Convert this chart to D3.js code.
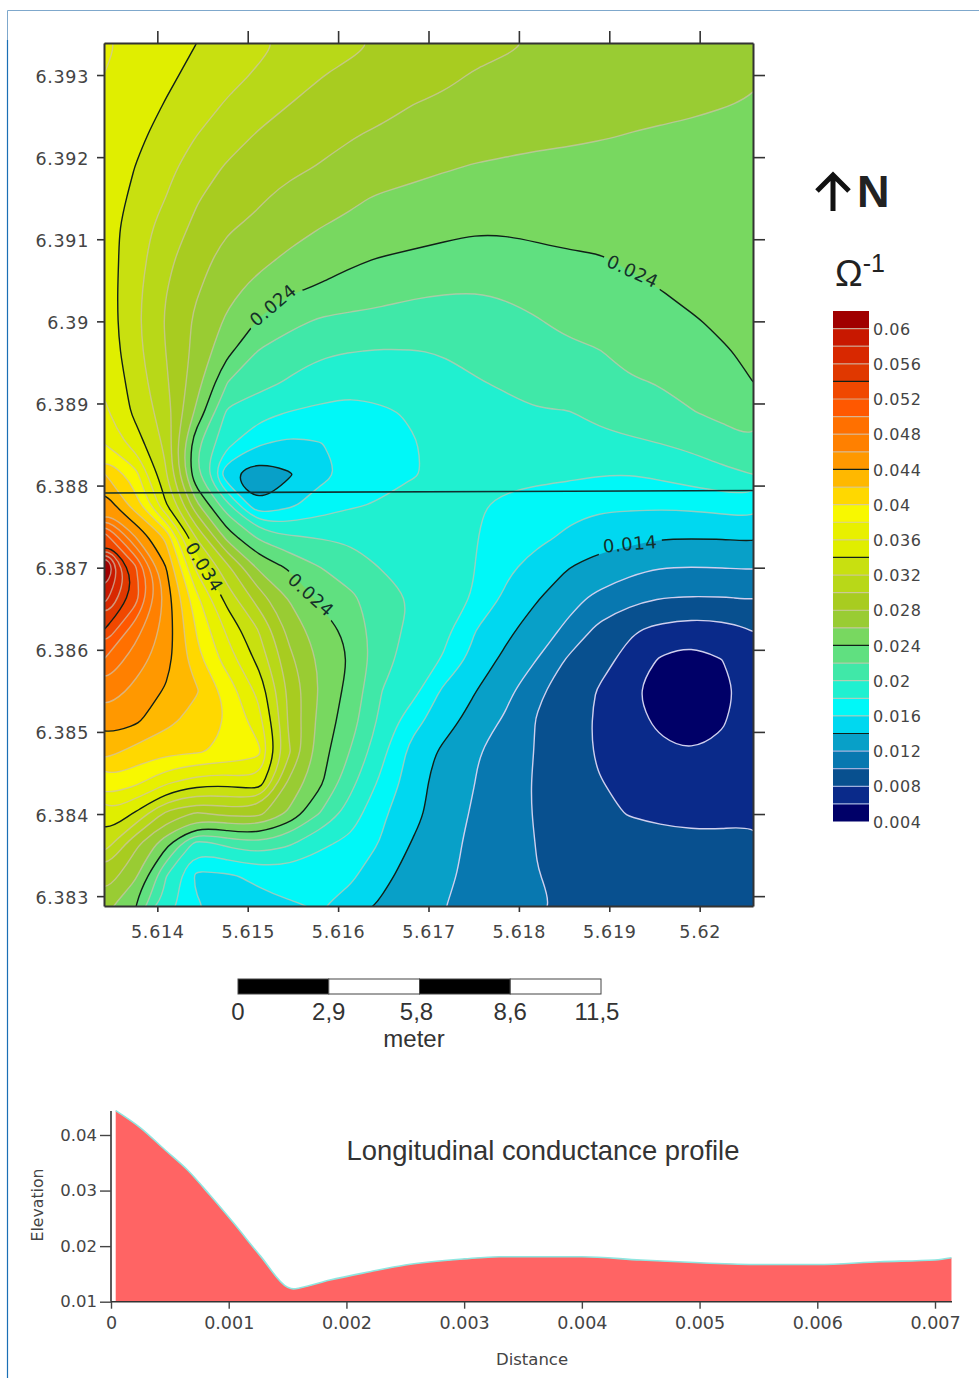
<!DOCTYPE html>
<html>
<head>
<meta charset="utf-8">
<title>Longitudinal conductance map and profile</title>
<script src="https://d3js.org/d3.v7.min.js"></script>
<style>
  html, body { margin: 0; background: #fff; }
  svg { display: block; }
  .tick text { fill: #444; }
</style>
</head>
<body>
<svg width="979" height="1378"></svg>
<script>
// map extent and tick values
const lonExtent = [5.61341, 5.62059];
const latExtent = [6.38288, 6.39339];
const lonTicks = [5.614, 5.615, 5.616, 5.617, 5.618, 5.619, 5.62];
const latTicks = [6.383, 6.384, 6.385, 6.386, 6.387, 6.388, 6.389, 6.39, 6.391, 6.392, 6.393];

// conductance, in 0.001 units, north row first
const gridValues = [
  [36.3,35.6,34.9,34,33.2,32.4,31.7,31,30.4,29.8,29.4,29,28.6,28.2,27.9,27.7,27.6,27.5,27.4,27.3,27.2,27.2],
  [36,35.4,34.4,33.5,32.6,31.8,31.2,30.1,29.6,29.2,28.8,28.4,27.9,27.7,27.5,27.3,27.1,26.9,26.7,26.5,26.3,26.2],
  [35.6,34.9,33.9,32.8,31.8,30.9,30,29.5,29.1,28.5,28,27.7,27.5,27.3,27.1,26.9,26.7,26.5,26.3,26.2,26.05,25.9],
  [35.2,34.5,33.2,32,30.9,29.8,29,28.6,28.1,27.7,27.4,27.1,26.9,26.7,26.5,26.35,26.15,25.95,25.85,25.75,25.65,25.6],
  [35,34,32.6,31,29.8,29,28.5,27.9,27.5,27.1,26.7,26.2,25.9,25.7,25.5,25.4,25.3,25.2,25.15,25.1,25.05,25],
  [35.1,33.6,32,30.2,29,28.3,27.4,26.9,26.3,25.8,25.4,25.2,25.1,25,25,24.95,24.9,24.9,24.9,24.9,24.9,24.9],
  [35,33,31.2,29.5,28.2,27.5,26.8,26,25.6,25.3,24.9,24.5,24.2,24.2,24.35,24.45,24.55,24.6,24.7,24.75,24.8,24.8],
  [35,32.9,30.5,28.7,27.3,26.6,25.6,25.1,24.3,23.9,23.6,23.4,23.3,23.4,23.6,23.8,23.9,24.2,24.45,24.6,24.7,24.7],
  [35.1,32.6,30.1,28.2,26.6,25.3,24.3,23.7,23.3,22.9,22.4,22.2,22.1,22.3,22.7,23.2,23.5,23.7,24,24.3,24.5,24.6],
  [35.2,32.5,29.8,27.6,25.7,23.9,22.6,21.8,21.5,21.3,21.1,21,21,21.4,21.9,22.5,23,23.4,23.7,23.9,24.2,24.4],
  [35.4,32.7,30,27.4,24.5,21.9,20.9,20.3,20.05,19.9,19.95,20.1,20.4,20.8,21.3,21.6,21.9,22.7,23.2,23.5,23.9,24.2],
  [35.8,33.2,30.3,26.8,22,20.7,19.8,19,18.5,18.9,19.2,19.5,19.9,20.2,20.6,20.9,21.3,21.8,22.1,22.6,23.3,24],
  [36.4,33.6,31,25.5,19.5,18.7,17.9,17.6,17.5,17.7,18.2,18.9,19.3,19.6,19.9,19.9,20.4,20.9,21.5,21.9,22.5,23.1],
  [38,35.1,31.5,22.3,18.5,16.2,15.5,15.9,16.8,17.3,17.9,18.5,18.9,19.1,19.2,19.3,19.5,19.7,20,20.4,20.9,21.8],
  [42.2,38.9,32.2,22,14.2,12.5,13.8,15.5,16.4,17.4,17.9,18.3,18.6,18.6,18.5,18.4,18.1,18,18.4,19,19.6,20],
  [45.5,41,34.2,26.5,20.5,14,15.6,17,17.8,18.2,18.7,18.8,18.2,17.6,17.1,16.6,16.3,16.3,16.3,16.4,16.7,17],
  [53,46,41.5,31.6,25,21.5,20.1,19.8,19.7,19.5,19.4,19,18.1,17.2,16.6,15.7,15,14.7,14.2,14.2,14.2,14.4],
  [64,52.5,44.1,35.4,30.4,25.6,23.7,22,20.8,19.9,19.8,19.6,18,16.5,15.1,14.1,13.2,12.6,12.05,12,12.05,12.2],
  [59,53.2,45.3,38.5,33.1,29,25.8,23.6,22.4,20.7,19.9,19.4,17.8,15.6,14.2,12.6,11.6,10.6,10.05,9.9,9.95,10.1],
  [54.2,49,45.2,39.8,35.5,31.9,27.3,24.8,23.5,20.5,19.7,18.6,16.1,14.6,12.9,11.7,9.6,8.3,7.6,7.2,7.4,8.1],
  [50,47,44.9,40.6,37,33.4,28.5,25.6,23.8,20.6,19.2,17.8,15.3,13.5,12,9.8,8.7,7.4,5.8,5,6,7.4],
  [47.5,45.5,43.8,42.2,39.2,35.4,29.5,25.8,23.2,20,18.7,15.6,14.1,12.6,10.4,9,7.9,6.3,5.1,4.5,5.3,7],
  [45,44.4,42.6,41.2,39.9,36.8,29.5,25.3,22.8,19.4,16.7,14.8,13.2,11.7,9.9,9,7.7,6.7,5.6,5,5.8,7.2],
  [42.8,41.3,40.5,40.2,39.7,38.6,30.2,24.9,21.8,18.5,15.2,13.6,12.2,11,9.9,8.9,7.8,7,6.4,6,6.4,7.3],
  [39.5,38.5,36.3,34.9,34.6,35.5,27.5,24.4,20.5,17.5,14.9,13,12,10.9,9.8,8.9,8.1,7.5,7,6.9,7,7.2],
  [35.8,33.8,29.5,27.7,28.7,28.7,25.6,21.9,19,16.3,14.7,12.8,11.8,10.8,9.85,8.8,8.4,7.9,7.6,7.5,7.5,7.6],
  [33,28.5,24.6,18.9,20.4,21.4,20.2,18.3,17.5,15.8,13.8,12.4,11.7,11,9.95,9.4,9.1,8.9,8.7,8.5,8.5,8.6],
  [29.5,26.5,20.1,15.5,15.8,16.4,16.9,16.9,16.3,14.7,13,12.3,11.6,10.8,10.05,9.6,9.4,9.2,9.1,9,9,9.1],
  [26.8,24,19.1,16.2,15.3,15.4,15.8,16.1,15.3,13.6,12.9,12.05,11.3,10.7,10.2,9.8,9.6,9.5,9.4,9.3,9.3,9.4]
];

// colour bands, lower bound in 0.001 units
const levels = [4,6,8,10,12,14,16,18,20,22,24,26,28,30,32,34,36,38,40,42,44,46,48,50,52,54,56,58,60];
const bandColors = ["#000068","#0a2a8a","#08508f","#0878b0","#08a0c8","#00d8f0","#00f8f8","#20f0d0","#40e8a8","#60e080",
  "#78d860","#99cc33","#a8cc20","#b8d818","#c8e010","#e0ee00","#e8f000","#f8f800","#ffd800","#ffb800",
  "#ff9800","#ff8000","#ff7000","#ff5800","#f04800","#e03800","#d82800","#c81800","#a00000"];
const indexLevels = [14, 24, 34, 44, 54];
const legendTop = 62;
const legendLabels = [4,8,12,16,20,24,28,32,36,40,44,48,52,56,60];

// profile line across the map
const profileLine = [[5.61341, 6.38791], [5.62059, 6.38794]];

// contour labels: text, lon, lat, angle
const contourLabels = [
  ["0.024", 5.61528, 6.3902, -40],
  ["0.024", 5.61926, 6.39061, 25],
  ["0.034", 5.61452, 6.38701, 58],
  ["0.024", 5.6157, 6.38667, 42],
  ["0.014", 5.61923, 6.38729, -5]
];

// scale bar
const barStops = [0, 2.875, 5.75, 8.625, 11.5];
const barLabels = ["0", "2,9", "5,8", "8,6", "11,5"];
const barLabelShift = [0, 0, -3, 0, -4];

// lower profile
const profileDistance = [0.00004,0.00025,0.00046,0.00065,0.00084,0.00104,0.00127,0.0015,0.00155,0.00161,0.00186,0.0022,0.0025,0.003,0.0033,0.00373,0.004,0.0045,0.005,0.0055,0.006,0.00653,0.007,0.00714];
const profileValue = [0.0444,0.0413,0.0373,0.0337,0.0292,0.0242,0.0182,0.0126,0.0123,0.0125,0.0139,0.0154,0.0166,0.0177,0.0181,0.0181,0.0181,0.0175,0.017,0.0167,0.0167,0.0172,0.0175,0.0179];
const distanceTicks = [0, 0.001, 0.002, 0.003, 0.004, 0.005, 0.006, 0.007];
const elevationTicks = [0.01, 0.02, 0.03, 0.04];

const svg = d3.select("svg");
const tickFont = "'DejaVu Sans', sans-serif";
const sansFont = "'Liberation Sans', sans-serif";
const nRows = gridValues.length, nCols = gridValues[0].length;

// page edge lines
svg.append("path").attr("d", "M7.5,1378V10.5H979").attr("fill", "none").attr("stroke", "#7fa8cc").attr("stroke-width", 1);
svg.append("path").attr("d", "M7.5,1378V40").attr("fill", "none").attr("stroke", "#1a6fb5").attr("stroke-width", 1.2);

// ---- map
const x = d3.scaleLinear().domain(lonExtent).range([104, 753]);
const y = d3.scaleLinear().domain(latExtent).range([906, 43]);
const colX = d3.scaleLinear().domain([0, nCols - 1]).range(lonExtent);
const rowY = d3.scaleLinear().domain([0, nRows - 1]).range([latExtent[1], latExtent[0]]);

const contourGen = d3.contours().size([nCols, nRows]).smooth(true).thresholds(levels);
const shapes = contourGen(gridValues.flat());

const ringLine = d3.line().curve(d3.curveBasisClosed);
// contour coordinates sit half a cell off the grid points
function shapePath(shape) {
  let out = "";
  shape.coordinates.forEach(poly => poly.forEach(ring => {
    const pts = ring.slice(0, -1).map(p => [x(colX(p[0] - 0.5)), y(rowY(p[1] - 0.5))]);
    out += ringLine(pts);
  }));
  return out;
}

const defs = svg.append("defs");
defs.append("clipPath").attr("id", "mapClip").append("rect")
  .attr("x", x(lonExtent[0])).attr("y", y(latExtent[1]))
  .attr("width", x(lonExtent[1]) - x(lonExtent[0])).attr("height", y(latExtent[0]) - y(latExtent[1]));

const gapMask = defs.append("mask").attr("id", "labelGaps").attr("maskUnits", "userSpaceOnUse")
  .attr("x", 0).attr("y", 0).attr("width", 979).attr("height", 1378);
gapMask.append("rect").attr("width", 979).attr("height", 1378).attr("fill", "#fff");
gapMask.selectAll("rect.gap").data(contourLabels).join("rect").attr("class", "gap")
  .attr("x", -32).attr("y", -9).attr("width", 64).attr("height", 18).attr("fill", "#000")
  .attr("transform", d => `translate(${x(d[1])},${y(d[2])}) rotate(${d[3]})`);

const mapG = svg.append("g").attr("clip-path", "url(#mapClip)");
mapG.selectAll("path.band").data(shapes).join("path").attr("class", "band")
  .attr("d", shapePath).attr("fill", (d, i) => bandColors[i]).attr("fill-rule", "evenodd");

const lineColor = v => v <= 12 ? "#cfcfee" : "rgba(205,195,175,0.7)";
mapG.selectAll("path.iso").data(shapes.filter(d => d.value > 4 && !indexLevels.includes(d.value))).join("path").attr("class", "iso")
  .attr("d", shapePath).attr("fill", "none").attr("stroke", d => lineColor(d.value)).attr("stroke-width", 1.4);

mapG.append("g").attr("mask", "url(#labelGaps)")
  .selectAll("path.index").data(shapes.filter(d => indexLevels.includes(d.value))).join("path").attr("class", "index")
  .attr("d", shapePath).attr("fill", "none").attr("stroke", "#102018").attr("stroke-width", 1.4);

mapG.append("path").datum(profileLine)
  .attr("d", d3.line().x(d => x(d[0])).y(d => y(d[1])))
  .attr("fill", "none").attr("stroke", "#103030").attr("stroke-width", 1.6);

svg.append("g").selectAll("text").data(contourLabels).join("text")
  .attr("transform", d => `translate(${x(d[1])},${y(d[2])}) rotate(${d[3]})`)
  .attr("text-anchor", "middle").attr("dy", "0.36em")
  .attr("font-family", tickFont).attr("font-size", 18).attr("letter-spacing", 0.6)
  .attr("fill", "#14302a").text(d => d[0]);

// map axes
function styleAxis(g) {
  g.attr("font-family", tickFont).attr("font-size", 17.5);
  g.selectAll(".domain").attr("stroke", "#333").attr("stroke-width", 2);
  g.selectAll(".tick line").attr("stroke", "#333").attr("stroke-width", 1.6);
  g.selectAll(".tick text").attr("letter-spacing", 0.7);
}
svg.append("g").attr("transform", "translate(0,906)")
  .call(d3.axisBottom(x).tickValues(lonTicks).tickFormat(String).tickSize(6).tickSizeOuter(0).tickPadding(14)).call(styleAxis);
svg.append("g").attr("transform", "translate(0,43)")
  .call(d3.axisTop(x).tickValues(lonTicks).tickFormat("").tickSize(12).tickSizeOuter(0)).call(styleAxis);
svg.append("g").attr("transform", "translate(104,0)")
  .call(d3.axisLeft(y).tickValues(latTicks).tickFormat(String).tickSize(7).tickSizeOuter(0).tickPadding(8)).call(styleAxis)
  .selectAll(".tick text").attr("dy", "0.4em");
svg.append("g").attr("transform", "translate(753,0)")
  .call(d3.axisRight(y).tickValues(latTicks).tickFormat("").tickSize(12).tickSizeOuter(0)).call(styleAxis);

// ---- north arrow and unit
svg.append("path").attr("d", "M833,211V176M817,191L833,175L849,191")
  .attr("fill", "none").attr("stroke", "#111").attr("stroke-width", 5);
svg.append("text").attr("x", 857).attr("y", 207).attr("font-family", sansFont)
  .attr("font-weight", "bold").attr("font-size", 45).attr("fill", "#222").text("N");
const unitText = svg.append("text").attr("x", 835).attr("y", 286).attr("font-family", sansFont)
  .attr("font-size", 37).attr("fill", "#222").text("Ω");
unitText.append("tspan").attr("dy", -14).attr("font-size", 25).text("-1");

// ---- colour scale
const legendY = d3.scaleLinear().domain([4, legendTop]).range([821.5, 311]);
const legendG = svg.append("g");
legendG.selectAll("rect").data(levels).join("rect")
  .attr("x", 833).attr("width", 36)
  .attr("y", d => legendY(d + 2)).attr("height", d => legendY(d) - legendY(d + 2))
  .attr("fill", (d, i) => bandColors[i]);
legendG.selectAll("line").data(levels.slice(1)).join("line")
  .attr("x1", 833).attr("x2", 869).attr("y1", d => legendY(d)).attr("y2", d => legendY(d))
  .attr("stroke", d => indexLevels.includes(d) ? "#102018" : (d <= 12 ? "#9fb0dd" : "rgba(205,195,175,0.75)"))
  .attr("stroke-width", 1.2);
legendG.selectAll("text").data(legendLabels).join("text")
  .attr("x", 873).attr("y", d => legendY(d)).attr("dy", "0.38em")
  .attr("font-family", tickFont).attr("font-size", 16).attr("letter-spacing", 0.5).attr("fill", "#444")
  .text(d => String(+(d / 1000).toFixed(3)));

// ---- scale bar
const barX = d3.scaleLinear().domain([0, 11.5]).range([238, 601]);
const barG = svg.append("g");
barG.selectAll("rect").data(d3.pairs(barStops)).join("rect")
  .attr("x", d => barX(d[0])).attr("width", d => barX(d[1]) - barX(d[0]))
  .attr("y", 979).attr("height", 15)
  .attr("fill", (d, i) => i % 2 ? "#fff" : "#000").attr("stroke", "#444").attr("stroke-width", 1);
barG.selectAll("text").data(barStops).join("text")
  .attr("x", (d, i) => barX(d) + barLabelShift[i]).attr("y", 1020).attr("text-anchor", "middle")
  .attr("font-family", sansFont).attr("font-size", 24).attr("fill", "#333")
  .text((d, i) => barLabels[i]);
barG.append("text").attr("x", 414).attr("y", 1047).attr("text-anchor", "middle")
  .attr("font-family", sansFont).attr("font-size", 24).attr("fill", "#333").text("meter");

// ---- profile chart
const px = d3.scaleLinear().domain([0, 0.007]).range([111, 935]);
const py = d3.scaleLinear().domain([0.01, 0.04]).range([1301.7, 1135]);
const profile = d3.zip(profileDistance, profileValue);

svg.append("path").datum(profile)
  .attr("d", d3.area().curve(d3.curveMonotoneX).x(d => px(d[0])).y0(py(0.01)).y1(d => py(d[1])))
  .attr("fill", "#ff6464");
svg.append("path").datum(profile)
  .attr("d", d3.line().curve(d3.curveMonotoneX).x(d => px(d[0])).y(d => py(d[1])))
  .attr("fill", "none").attr("stroke", "#8fe6e0").attr("stroke-width", 1.6);

function styleProfileAxis(g, size) {
  g.attr("font-family", tickFont).attr("font-size", size);
  g.selectAll(".domain").attr("stroke", "#333").attr("stroke-width", 1.6);
  g.selectAll(".tick line").attr("stroke", "#444").attr("stroke-width", 1.4);
}
svg.append("g").attr("transform", `translate(0,${py(0.01)})`)
  .call(d3.axisBottom(px).tickValues(distanceTicks).tickFormat(String).tickSize(7).tickSizeOuter(0).tickPadding(8))
  .call(styleProfileAxis, 17.5)
  .select(".domain").attr("d", "M111,0H952");
svg.append("g").attr("transform", "translate(111,0)")
  .call(d3.axisLeft(py).tickValues(elevationTicks).tickFormat(String).tickSize(11).tickSizeOuter(0).tickPadding(3))
  .call(styleProfileAxis, 16.5)
  .select(".domain").attr("d", "M0,1111V1301.7");

svg.append("text").attr("x", 543).attr("y", 1160).attr("text-anchor", "middle")
  .attr("font-family", sansFont).attr("font-size", 27.4).attr("fill", "#333")
  .text("Longitudinal conductance profile");
svg.append("text").attr("transform", "translate(43,1205) rotate(-90)").attr("text-anchor", "middle")
  .attr("font-family", tickFont).attr("font-size", 15.7).attr("fill", "#444").text("Elevation");
svg.append("text").attr("x", 532).attr("y", 1365).attr("text-anchor", "middle")
  .attr("font-family", tickFont).attr("font-size", 16.5).attr("fill", "#444").text("Distance");
</script>
</body>
</html>
